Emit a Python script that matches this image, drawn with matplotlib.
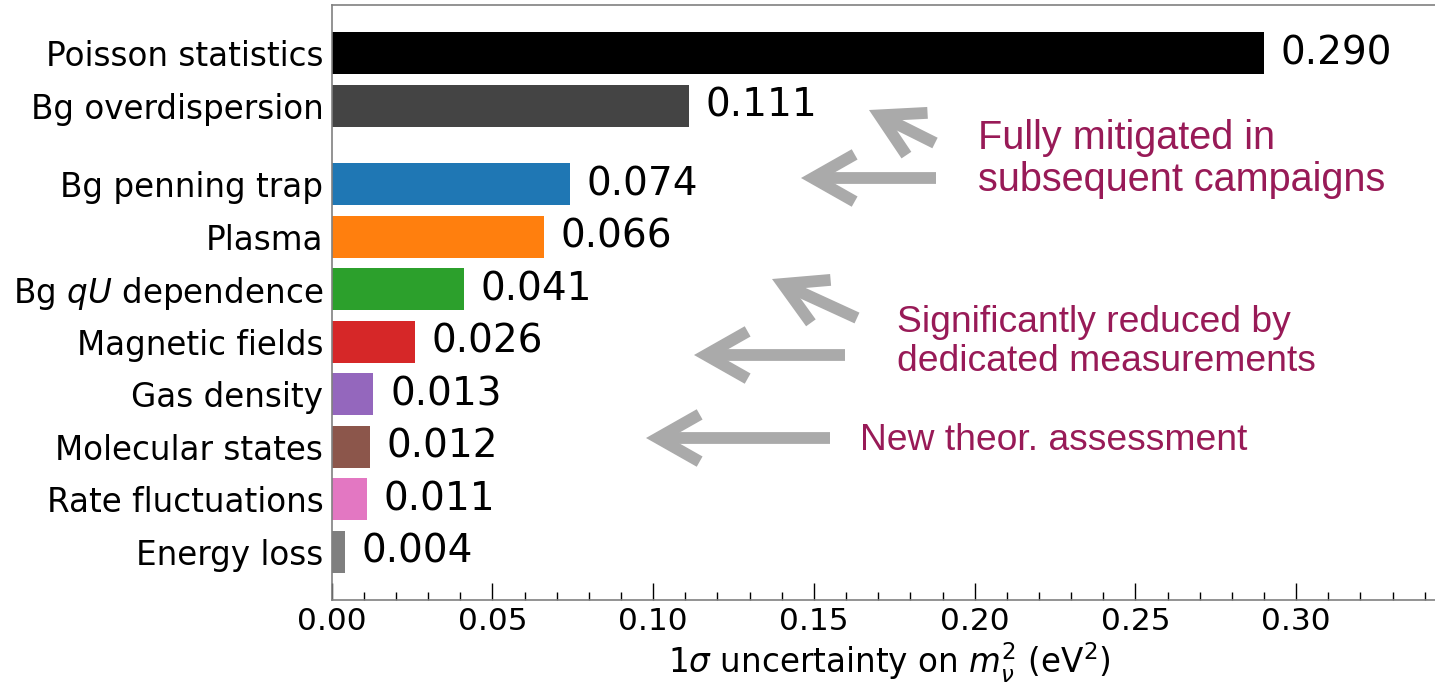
import numpy as np
import matplotlib
matplotlib.use("Agg")
import matplotlib.pyplot as plt
from matplotlib.patches import FancyArrowPatch

# valores (incerteza 1 sigma em m_nu^2, eV^2)
labels = ["Poisson statistics", "Bg overdispersion", "Bg penning trap", "Plasma",
          "Bg $qU$ dependence", "Magnetic fields", "Gas density", "Molecular states",
          "Rate fluctuations", "Energy loss"]
values = [0.290, 0.111, 0.074, 0.066, 0.041, 0.026, 0.013, 0.012, 0.011, 0.004]
colors = ["#000000", "#444444", "tab:blue", "tab:orange", "tab:green", "tab:red",
          "tab:purple", "tab:brown", "tab:pink", "tab:gray"]

notes = ["Fully mitigated in\nsubsequent campaigns",
         "Significantly reduced by\ndedicated measurements",
         "New theor. assessment"]
note_color = "#981a57"
arrow_color = "#aaaaaa"

W, H = 1435, 685
fig = plt.figure(figsize=(W / 100, H / 100), dpi=100)
ax = fig.add_axes([331.7 / W, 1 - 600 / H, 1 - 331.7 / W, (600 - 5) / H])

# posicoes: um espaco extra depois das duas primeiras barras
idx = np.arange(len(values))
ypos = idx + 0.5 * (idx >= 2)

bars = ax.barh(ypos, values, height=0.8, color=colors)
ax.bar_label(bars, labels=[f"{v:.3f}" for v in values], padding=12, fontsize=28)

ax.set_yticks(ypos)
ax.set_yticklabels(labels, fontsize=23.5)
ax.set_ylim(ypos[-1] + 0.92, -0.92)
ax.set_xlim(0, 0.3432)
ax.set_xticks(np.arange(0, 0.31, 0.05))
ax.set_xticks(np.arange(0, 0.345, 0.01), minor=True)
ax.set_xticklabels([f"{t:.2f}" for t in np.arange(0, 0.31, 0.05)], fontsize=22.5)
ax.tick_params(axis="x", which="major", direction="in", length=12, width=1, pad=5)
ax.tick_params(axis="x", which="minor", direction="in", length=6, width=1)
ax.tick_params(axis="y", length=0, pad=6)
ax.set_xlabel(r"1$\sigma$ uncertainty on $m_\nu^2$ (eV$^2$)", fontsize=23.5)
ax.xaxis.set_label_coords(0.505, -0.069)

for s in ["left", "bottom", "top"]:
    ax.spines[s].set_color("#808080")
    ax.spines[s].set_linewidth(1.2)
ax.spines["right"].set_visible(False)


def px(x, y):
    return (x / W, 1 - y / H)


# setas cinzas (coordenadas em pixels da figura)
arrows = [((935, 143), (869, 110)), ((936, 178), (801, 178)),
          ((857, 318), (772, 279)), ((845, 355), (694, 355)),
          ((830, 438), (646, 438))]
for tail, tip in arrows:
    a = FancyArrowPatch(px(*tail), px(*tip), transform=fig.transFigure,
                        arrowstyle="->,head_length=30,head_width=17",
                        mutation_scale=1, lw=8.5, color=arrow_color,
                        shrinkA=0, shrinkB=0, joinstyle="miter", capstyle="butt")
    fig.patches.append(a)

note_xy = [(978, 159), (897, 342), (860, 440)]
note_size = [28.5, 26.8, 26.8]
for txt, (x, y), fs in zip(notes, note_xy, note_size):
    fig.text(*px(x, y), txt, color=note_color, fontsize=fs, family="Liberation Sans",
             ha="left", va="center", linespacing=1.15)

fig.savefig("out.png", dpi=100)
